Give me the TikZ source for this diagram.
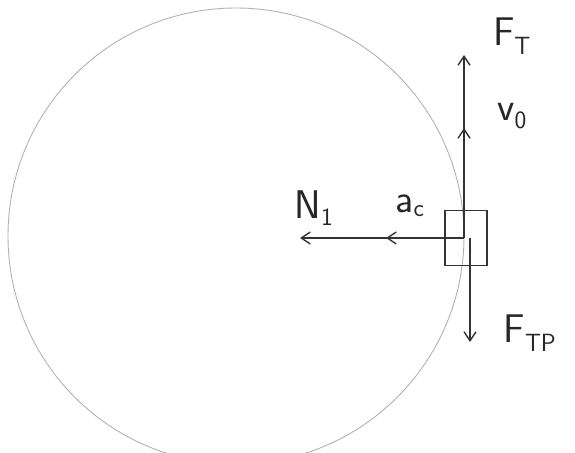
\documentclass[tikz,border=0pt]{standalone}
\usetikzlibrary{arrows.meta}
\begin{document}
\begin{tikzpicture}[x=1pt,y=-1pt,
  vec/.style={draw=black!80,line width=1.6pt,-{Straight Barb[length=9pt,width=12pt,line width=1.4pt]}},
  lbl/.style={font=\fontsize{40}{44}\selectfont\sffamily,text=black!85,inner sep=0pt},
  blockbox/.style={draw=black!80,line width=1.4pt,minimum width=42pt,minimum height=55pt,inner sep=0pt}]
\useasboundingbox (0,0) rectangle (575,452);
\draw[black!30,line width=0.9pt] (236,236) circle (228);
\node[blockbox] (blk) at (466,238) {};
\coordinate (o) at (464,238);
\coordinate (o2) at (470,238);
\coordinate (ft) at (464,55);
\coordinate (v) at (464,128);
\coordinate (n) at (300,238);
\coordinate (ac) at (386,238);
\coordinate (ftp) at (470,342);
\draw[vec] (o) -- (ft);
\draw[vec] (o) -- (v);
\draw[vec] (o) -- (n);
\draw[vec] (o) -- (ac);
\draw[vec] (o2) -- (ftp);
\node[lbl] (lft) at (512,36) {F$_{\mathsf{T}}$};
\node[lbl] (lv) at (512,116) {v$_{\mathsf{0}}$};
\node[lbl] (ln) at (314,208) {N$_{\mathsf{1}}$};
\node[lbl] (lac) at (410,206) {a$_{\mathsf{c}}$};
\node[lbl] (lftp) at (530,333) {F$_{\mathsf{TP}}$};
\end{tikzpicture}
\end{document}
